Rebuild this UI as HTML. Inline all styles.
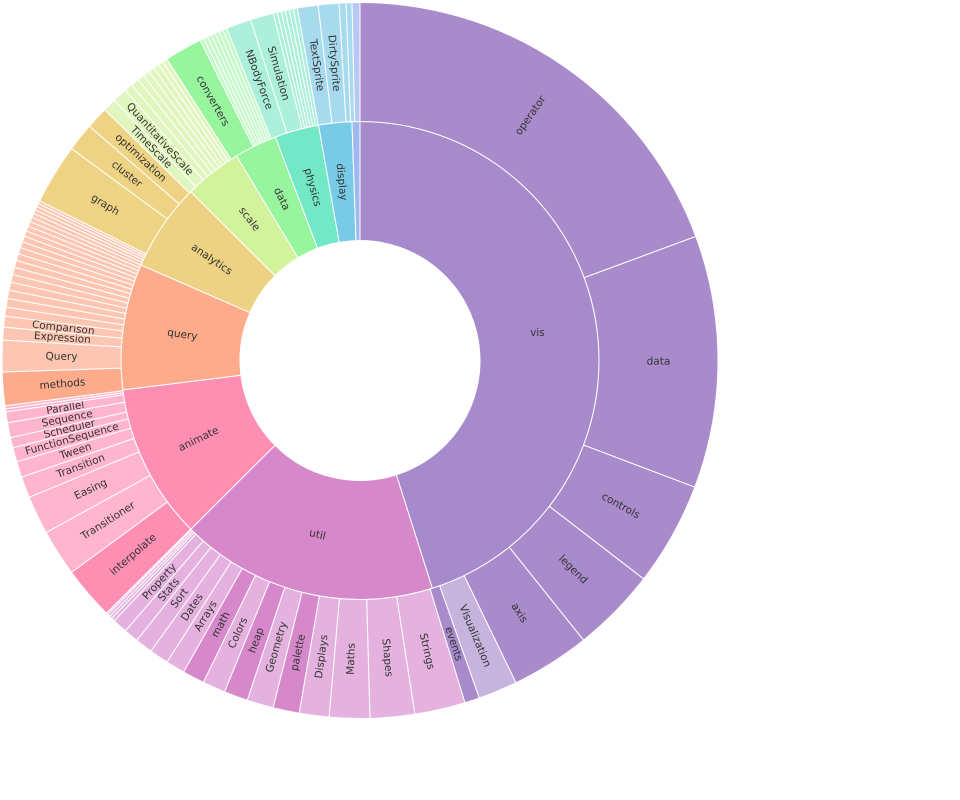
<!DOCTYPE html>
<html><head><meta charset="utf-8"><style>
html,body{margin:0;padding:0;background:#fff;width:960px;height:800px;overflow:hidden}
text{font-family:"DejaVu Sans","Liberation Sans",sans-serif;fill:#333;font-size:10.5px}
</style></head><body>
<svg id="s" width="960" height="800" viewBox="0 0 960 800" xmlns="http://www.w3.org/2000/svg"></svg>
<script>
const CX=360,CY=360.5,R0=120,R1=239,R2=358;
const svg=document.getElementById('s');
function ang(p){return Math.atan2(p[0]-CX,-(p[1]-CY))*180/Math.PI;}
function norm(a){while(a<0)a+=360;return a;}
function A(p){return norm(ang(p));}
function pt(r,a){const t=a*Math.PI/180;return [CX+r*Math.sin(t),CY-r*Math.cos(t)];}
function wedge(r1,r2,a1,a2,col,label,mode,fs){
  if(a2<=a1)return;
  const large=(a2-a1)>180?1:0;
  const p1=pt(r2,a1),p2=pt(r2,a2),p3=pt(r1,a2),p4=pt(r1,a1);
  const d=`M${p1} A${r2},${r2} 0 ${large} 1 ${p2} L${p3} A${r1},${r1} 0 ${large} 0 ${p4} Z`;
  const e=document.createElementNS('http://www.w3.org/2000/svg','path');
  e.setAttribute('d',d);e.setAttribute('fill',col);e.setAttribute('stroke','#fff');e.setAttribute('stroke-width','1');
  svg.appendChild(e);
  if(label){
    const m=(a1+a2)/2,c=pt((r1+r2)/2,m);
    let rot;
    if(mode==='h')rot=0;else if(mode==='t'){rot=m;while(rot>90)rot-=180;while(rot<-90)rot+=180;}
    else{rot=m-90;while(rot>90)rot-=180;while(rot<-90)rot+=180;}
    const t=document.createElementNS('http://www.w3.org/2000/svg','text');
    t.setAttribute('x',c[0]);t.setAttribute('y',c[1]);t.setAttribute('text-anchor','middle');
    t.setAttribute('dominant-baseline','central');
    if(fs)t.setAttribute('font-size',fs);
    t.setAttribute('transform',`rotate(${rot} ${c[0]} ${c[1]})`);
    t.textContent=label;svg.appendChild(t);
  }
}
const inner=[
 ['vis',0,[397,477],'#a68acb','h'],
 ['util',null,[190,530],'#d688ca','t'],
 ['animate',null,[122,390],'#fe8fb3','r'],
 ['query',null,[118,255],'#fdab8b','r'],
 ['analytics',null,[192,193],'#eed283','r'],
 ['scale',null,[230,145],'#d2f29c','r'],
 ['data',null,[272,128],'#97f59e','r'],
 ['physics',null,[318,122],'#72e8c6','r'],
 ['display',null,[352,122],'#78cbe6','r'],
 ['',null,[360,0],'#9fb8ef','r']
];
let a=0;
inner.forEach((s,i)=>{let b=i==inner.length-1?360:A(s[2]);wedge(R0,R1,a,b,s[3],s[0],s[4]);a=b;});
const V='#a98bcc',VL='#c6b3de',U='#d688ca',UL='#e5b2df',AN='#fe8fb3',AL='#ffb5ce',Q='#fdab8b',QL='#fdc6b2',AC='#efd384',SL='#e1f6bf',D='#97f59e',DL='#c5f9c9',PL='#acefdb',DSL='#a8daee',FL='#b6c8f3';
const outer=[
 ['operator',[697,236],V],['data',[697,488],V],['controls',[645,580],V],['legend',[585,642],V],['axis',[517,685],V],
 ['Visualization',[480,700],VL],['events',[465,703],V],
 ['Strings',[415,715],UL],['Shapes',[370,719],UL],['Maths',[329,718],UL],['Displays',[299,714],UL],['palette',[273,708],U],
 ['Geometry',[247,701],UL],['heap',[224,693],U],['Colors',[203,683],UL],['math',[183,673],U],['Arrays',[167,662],UL],
 ['Dates',[151,651],UL],['Sort',[137,640],UL],['Stats',[126,630],UL],['Property',[115,620],UL],
 ['',[112,618],UL],['',[110,616],UL],['',[108,614],UL],['',[107,612.5],UL],
 ['interpolate',[72,572],AN],['Transitioner',[47,532],AL],['Easing',[30,497],AL],['Transition',[22,477],AL],['Tween',[16,462],AL],
 ['FunctionSequence',[12,448],AL],['Scheduler',[9,438],AL],['Sequence',[7,423],AL],['Parallel',[5,412],AL],
 ['',[4,409],AL],['',[3,406],AL],
 ['methods',[2,372],Q],['Query',[2,340],QL],['Expression',[3,327],QL],['Comparison',[4,316],QL]
];
(function(){const s=A([4,316]),e=A([38,200]);const n=20;let w=[];let tot=0;for(let i=0;i<n;i++){const v=1+(n-i)*0.12;w.push(v);tot+=v;}
 let c=s;w.forEach(v=>{c+=v/tot*(e-s);outer.push(['',c,QL]);});})();
outer.push(['graph',[68,146],AC],['cluster',[88,125],AC],['optimization',[103,108],AC]);
(function(){const s=A([103,108]),e=A([163,53]);const ws=[1.6,1.8,1,1,0.8,0.8,0.7,0.7,0.6,0.6];const lab=['TimeScale','QuantitativeScale'];let tot=ws.reduce((x,y)=>x+y);let c=s;ws.forEach((v,i)=>{c+=v/tot*(e-s);outer.push([lab[i]||'',c,SL]);});})();
outer.push(['converters',[200,40],D]);
(function(){const s=A([200,40]),e=A([227,29]);const n=7;for(let i=1;i<=n;i++)outer.push(['',s+(e-s)*i/n,DL]);})();
outer.push(['NBodyForce',[250,18],PL],['Simulation',[273,12],PL]);
(function(){const s=A([273,12]),e=A([297,6]);const n=6;for(let i=1;i<=n;i++)outer.push(['',s+(e-s)*i/n,PL]);})();
outer.push(['TextSprite',[318,4],DSL],['DirtySprite',[339,2],DSL],['',[346,1.5],DSL],['',[352,1],DSL],['',360,FL]);
a=0;
outer.forEach(s=>{let b=typeof s[1]==='number'?s[1]:A(s[1]);if(b<a-1)b+=360;wedge(R1,R2,a,b,s[2],s[0],'r');a=b;});
</script>
</body></html>
